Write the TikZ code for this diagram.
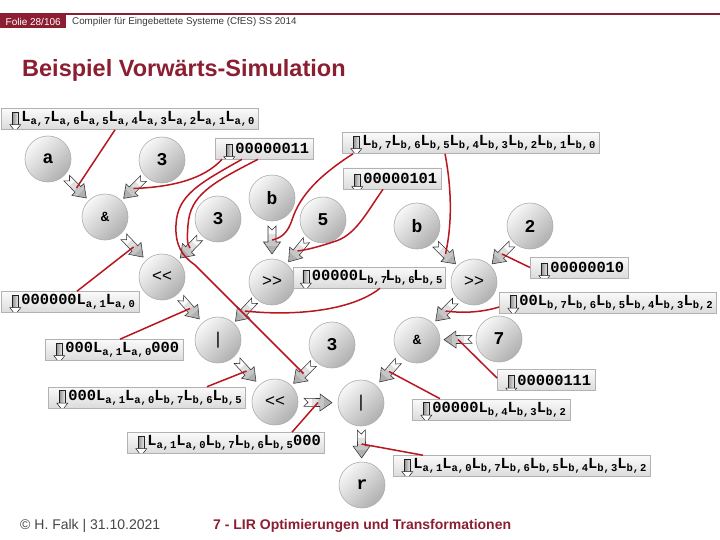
\documentclass[tikz,border=0pt]{standalone}
\usepackage{fontspec}
\setmainfont{Liberation Sans}
\newfontfamily\cour{Liberation Mono}
\usetikzlibrary{calc,decorations.markings}
\definecolor{fred}{RGB}{140,30,50}
\definecolor{lred}{RGB}{185,22,32}

\newcommand\Ls[2]{L\raisebox{-0.4ex}{\fontsize{10.5}{10.5}\selectfont #1,\kern1pt#2}}
\newcommand\shlsym{<\kern0pt<}
\newcommand\shrsym{>\kern0pt>}

\newcommand\fatarrowshape{%
  \begin{scope}
    \clip (-14,4) -- (2,4) -- (2,8.5) -- (14,0) -- (2,-8.5) -- (2,-4) -- (-14,-4) -- (-10,0) -- cycle;
    \fill[gray!4] (-15,-10) rectangle (-6,10);
    \fill[gray!24] (-6,-10) rectangle (0,10);
    \fill[gray!45] (0,-10) rectangle (6,10);
    \fill[gray!62] (6,-10) rectangle (15,10);
  \end{scope}
  \draw[gray!40!black, line width=0.55pt, line join=miter]
    (-14,4) -- (2,4) -- (2,8.5) -- (14,0) -- (2,-8.5) -- (2,-4) -- (-14,-4) -- (-10,0) -- cycle;}

\tikzset{
  op/.style={circle, minimum size=46pt, inner sep=0pt, draw=gray!65, line width=0.6pt,
    top color=gray!6, bottom color=gray!62, shading angle=45,
    font=\cour\bfseries\fontsize{18}{18}\selectfont},
  opsans/.style={op, font=\fontsize{17}{17}\selectfont},
  opamp/.style={op, font=\cour\bfseries\fontsize{14}{14}\selectfont},
  lbl/.style={anchor=west, draw=gray!60, line width=0.6pt, top color=gray!4, bottom color=gray!28,
    minimum height=21pt, inner ysep=0pt, inner xsep=4pt,
    font=\cour\bfseries\fontsize{15.4}{15.4}\selectfont,
    path picture={
      \begin{scope}[shift={(path picture bounding box.west)}]
        \fill[left color=gray!85, right color=gray!15] (7,-9.5) rectangle (13,3);
        \draw[gray!25!black, line width=0.5pt] (7,3) -- (7,-9.5) -- (13,-9.5) -- (13,3);
        \draw[gray!25!black, line width=0.5pt, fill=white, line join=miter] (4.5,3) -- (15.5,3) -- (10,10) -- cycle;
      \end{scope}}},
  anno/.style={lred, line width=1.5pt},
  flow/.style={decoration={markings, mark=at position 0.5 with {\fatarrowshape}}, postaction={decorate}},
}

\begin{document}
\begin{tikzpicture}[x=1pt,y=-1pt]
\useasboundingbox[fill=white] (0,0) rectangle (720,540);

% header
\draw[fred, line width=1.3pt] (0,14) -- (720,14);
\node[fill=fred, text=white, anchor=north west, minimum width=66pt, minimum height=13.5pt, inner sep=0pt,
  font=\fontsize{10}{10}\selectfont] (folie) at (0,14.5) {Folie 28/106};
\node[anchor=west, text=gray!45!black, font=\fontsize{9.8}{9.8}\selectfont, inner sep=0pt] (course) at (72,21.5)
  {Compiler für Eingebettete Systeme (CfES) SS 2014};
\node[anchor=base west, text=fred, font=\bfseries\fontsize{23.5}{23.5}\selectfont, inner sep=0pt] (title) at (22,77)
  {Beispiel Vorwärts-Simulation};

% footer
\node[anchor=base west, text=gray!55!black, font=\fontsize{14}{14}\selectfont, inner sep=0pt] (copy) at (20,529)
  {© H. Falk | 31.10.2021};
\node[anchor=base west, text=fred, font=\bfseries\fontsize{14}{14}\selectfont, inner sep=0pt] (chap) at (213,529)
  {7 - LIR Optimierungen und Transformationen};

% operation nodes
\node[op] (a) at (48,159) {a};
\node[op] (c3a) at (162,160) {3};
\node[opamp] (and1) at (105,217) {\&};
\node[op] (c3b) at (218,219) {3};
\node[op] (b1) at (272,198) {b};
\node[op] (c5) at (323,220) {5};
\node[op] (b2) at (417,226) {b};
\node[op] (c2) at (530,226) {2};
\node[opsans] (shl1) at (162,277) {\shlsym};
\node[opsans] (shr1) at (272,282) {\shrsym};
\node[opsans] (or1) at (218,340) {|};
\node[op] (c3c) at (332,345) {3};
\node[opsans] (shr2) at (474,282) {\shrsym};
\node[opamp] (and2) at (417,340) {\&};
\node[op] (c7) at (499,339) {7};
\node[opsans] (shl2) at (275,402) {\shlsym};
\node[opsans] (or2) at (361,403) {|};
\node[op] (r) at (362,485) {r};

% flow arrows
\path[flow] (a) -- (and1);
\path[flow] (c3a) -- (and1);
\path[flow] (and1) -- (shl1);
\path[flow] (c3b) -- (shl1);
\path[flow] (b1) -- (shr1);
\path[flow] (c5) -- (shr1);
\path[flow] (b2) -- (shr2);
\path[flow] (c2) -- (shr2);
\path[flow] (shl1) -- (or1);
\path[flow] (shr1) -- (or1);
\path[flow] (shr2) -- (and2);
\path[flow] (c7) -- (and2);
\path[flow] (or1) -- (shl2);
\path[flow] (c3c) -- (shl2);
\path[flow] (and2) -- (or2);
\path[flow] (shl2) -- (or2);
\path[flow] (or2) -- (r);

% midpoints of the flow arrows
\coordinate (m-a) at ($(a)!0.5!(and1)$);
\coordinate (m-c3a) at ($(c3a)!0.5!(and1)$);
\coordinate (m-and1) at ($(and1)!0.5!(shl1)$);
\coordinate (m-c3b) at ($(c3b)!0.5!(shl1)$);
\coordinate (m-b1) at ($(b1)!0.5!(shr1)$);
\coordinate (m-c5) at ($(c5)!0.5!(shr1)$);
\coordinate (m-b2) at ($(b2)!0.5!(shr2)$);
\coordinate (m-c2) at ($(c2)!0.5!(shr2)$);
\coordinate (m-shl1) at ($(shl1)!0.5!(or1)$);
\coordinate (m-shr1) at ($(shr1)!0.5!(or1)$);
\coordinate (m-shr2) at ($(shr2)!0.5!(and2)$);
\coordinate (m-c7) at ($(c7)!0.5!(and2)$);
\coordinate (m-or1) at ($(or1)!0.5!(shl2)$);
\coordinate (m-c3c) at ($(c3c)!0.5!(shl2)$);
\coordinate (m-and2) at ($(and2)!0.5!(or2)$);
\coordinate (m-shl2) at ($(shl2)!0.5!(or2)$);
\coordinate (m-or2) at ($(or2)!0.5!(r)$);

% value labels
\node[lbl] (L1) at (1,119) {\hspace*{16pt}\Ls{a}{7}\Ls{a}{6}\Ls{a}{5}\Ls{a}{4}\Ls{a}{3}\Ls{a}{2}\Ls{a}{1}\Ls{a}{0}};
\node[lbl] (L2) at (215,148.5) {\hspace*{16pt}00000011};
\node[lbl] (L3) at (342,143) {\hspace*{16pt}\Ls{b}{7}\Ls{b}{6}\Ls{b}{5}\Ls{b}{4}\Ls{b}{3}\Ls{b}{2}\Ls{b}{1}\Ls{b}{0}};
\node[lbl] (L4) at (343,178.5) {\hspace*{16pt}00000101};
\node[lbl] (L5) at (1,302) {\hspace*{16pt}000000\Ls{a}{1}\Ls{a}{0}};
\node[lbl, inner xsep=2.5pt] (L6) at (293,277.5) {\hspace*{16pt}00000\Ls{b}{7}\kern-1.5pt\Ls{b}{6}\kern-1.5pt\Ls{b}{5}};
\node[lbl] (L7) at (530,267.5) {\hspace*{16pt}00000010};
\node[lbl] (L8) at (499,302.5) {\hspace*{16pt}00\Ls{b}{7}\Ls{b}{6}\Ls{b}{5}\Ls{b}{4}\Ls{b}{3}\Ls{b}{2}};
\node[lbl] (L9) at (45,350) {\hspace*{16pt}000\Ls{a}{1}\Ls{a}{0}000};
\node[lbl] (L10) at (497,380) {\hspace*{16pt}00000111};
\node[lbl] (L11) at (48,397.5) {\hspace*{16pt}000\Ls{a}{1}\Ls{a}{0}\Ls{b}{7}\Ls{b}{6}\Ls{b}{5}};
\node[lbl] (L12) at (412,409.5) {\hspace*{16pt}00000\Ls{b}{4}\Ls{b}{3}\Ls{b}{2}};
\node[lbl] (L13) at (127,443) {\hspace*{16pt}\Ls{a}{1}\Ls{a}{0}\Ls{b}{7}\Ls{b}{6}\Ls{b}{5}000};
\node[lbl] (L14) at (393,466) {\hspace*{16pt}\Ls{a}{1}\Ls{a}{0}\Ls{b}{7}\Ls{b}{6}\Ls{b}{5}\Ls{b}{4}\Ls{b}{3}\Ls{b}{2}};

% annotation lines
\draw[anno] ([xshift=114pt]L1.south west) -- (m-a);
\draw[anno] ([xshift=7pt]L2.south west) .. controls (205,178) and (175,187) .. (m-c3a);
\draw[anno] ([xshift=27pt]L2.south west) .. controls (200,183) and (177,195) .. (176,225)
  .. controls (175,245) and (182,256) .. (195,265) -- (m-c3c);
\draw[anno] ([xshift=43pt]L2.south west) .. controls (212,183) and (190,195) .. (188,225)
  .. controls (187,238) and (187,244) .. (m-c3b);
\draw[anno] ([xshift=11pt]L3.south west) .. controls (320,175) and (300,195) .. (292,220)
  .. controls (288,232) and (282,238) .. (m-b1);
\draw[anno] ([xshift=103pt]L3.south west) .. controls (452,190) and (452,225) .. (m-b2);
\draw[anno] ([xshift=40pt]L4.south west) .. controls (365,215) and (355,236) .. (333,242)
  .. controls (318,247) and (306,250) .. (m-c5);
\draw[anno] ([xshift=76pt]L5.north west) -- (m-and1);
\draw[anno] ([xshift=87pt]L6.south west) .. controls (350,312) and (290,316) .. (m-shr1);
\draw[anno] (L7.west) -- (m-c2);
\draw[anno] ([yshift=-4.5pt]L8.west) .. controls (480,313) and (460,313) .. (m-shr2);
\draw[anno] ([xshift=75pt]L9.north west) -- (m-shl1);
\draw[anno] ([yshift=2pt]L10.west) -- (m-c7);
\draw[anno] ([xshift=159pt]L11.north west) -- (m-or1);
\draw[anno] ([xshift=28pt]L12.north west) -- (m-and2);
\draw[anno] ([xshift=165pt]L13.north west) -- (m-shl2);
\draw[anno] ([xshift=30pt]L14.north west) -- (m-or2);
\end{tikzpicture}
\end{document}
